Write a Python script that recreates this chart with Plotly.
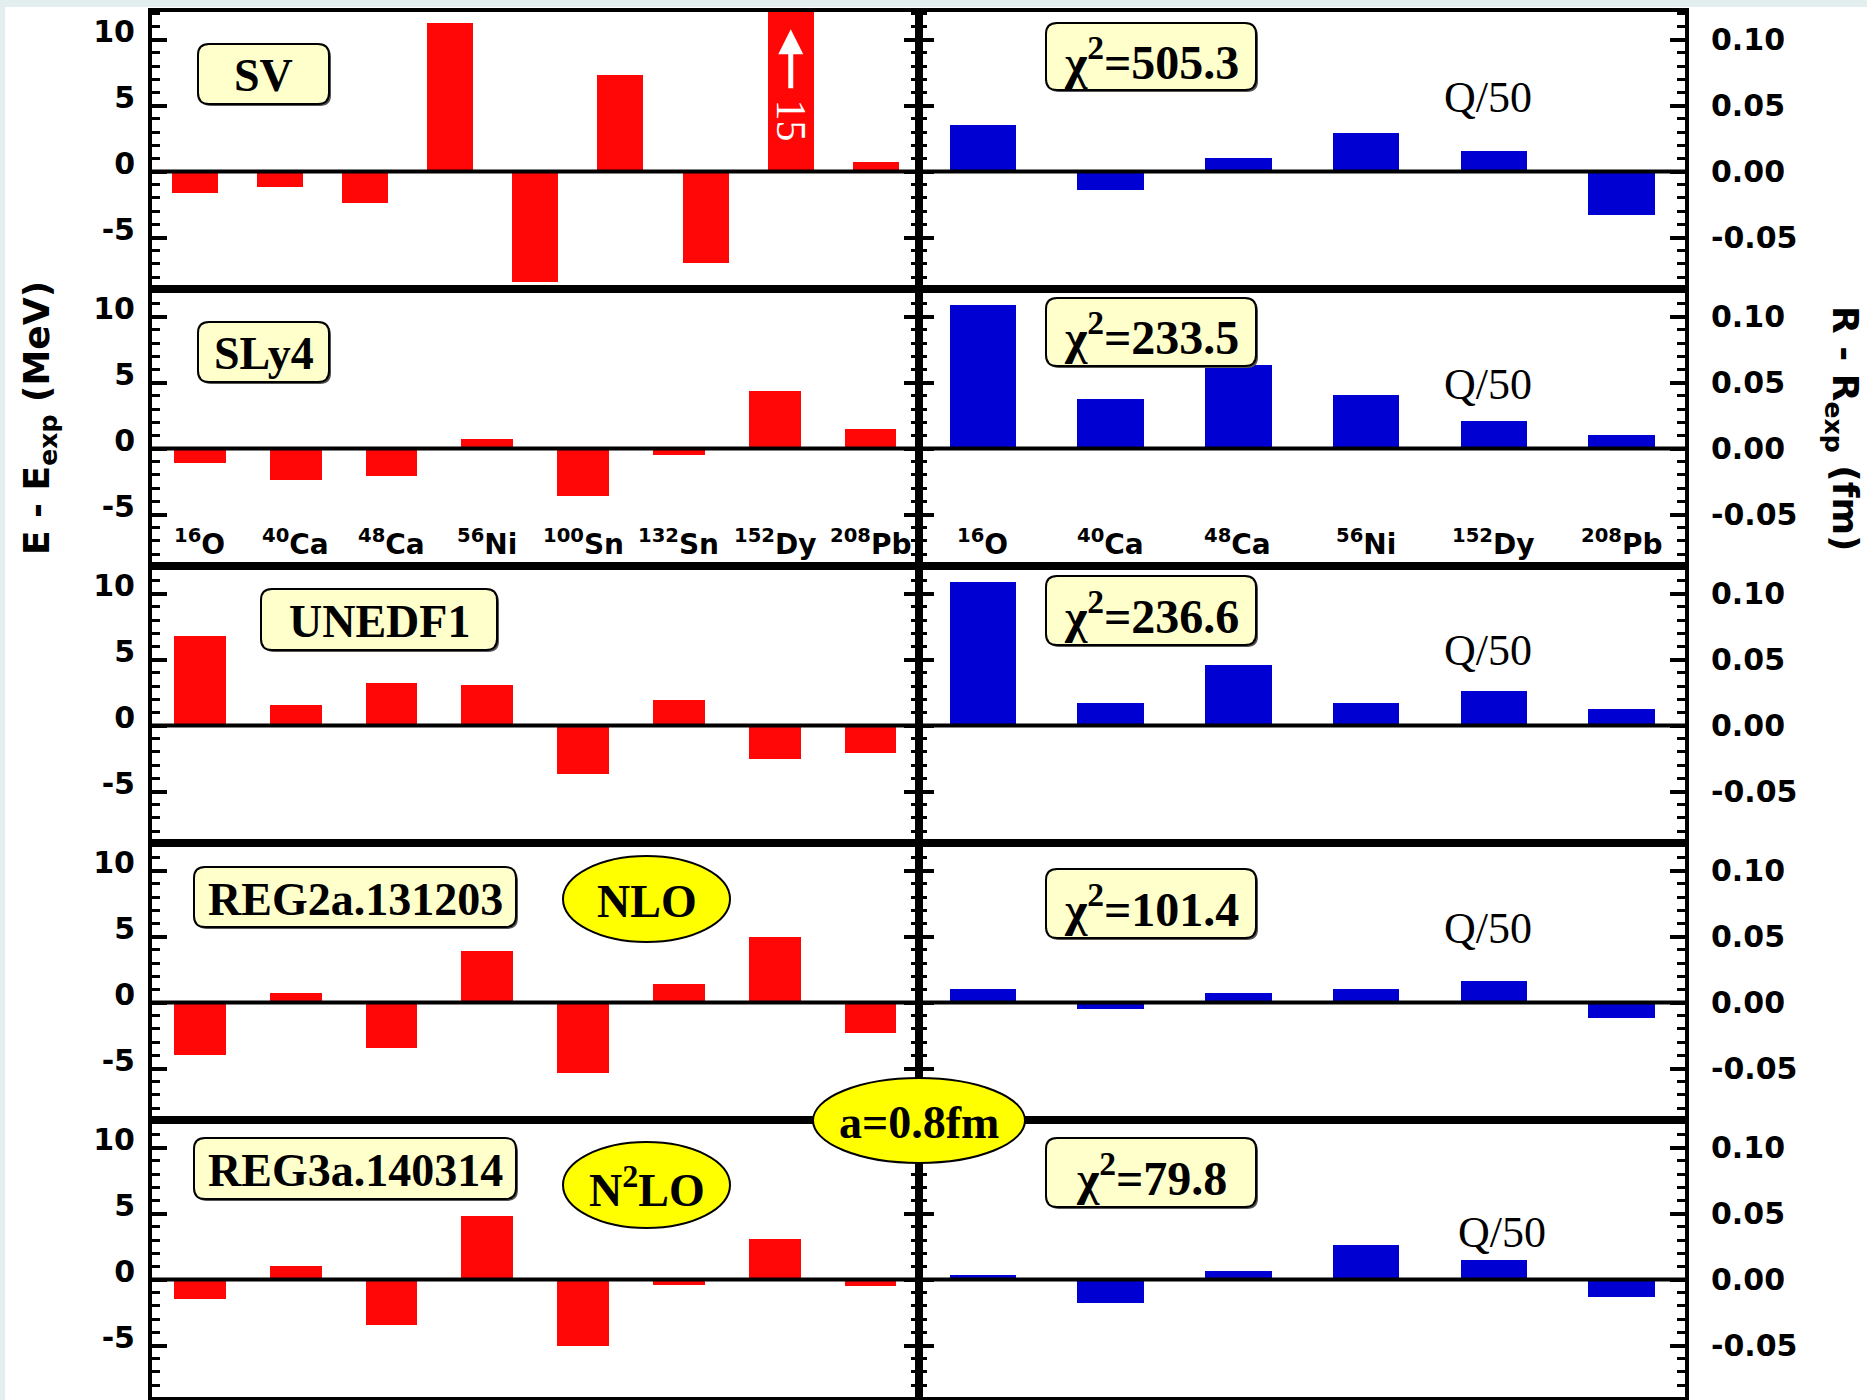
import plotly.graph_objects as go
from plotly.subplots import make_subplots

# ---------------- data ----------------
nuclei_E = ["16O", "40Ca", "48Ca", "56Ni", "100Sn", "132Sn", "152Dy", "208Pb"]
nuclei_R = ["16O", "40Ca", "48Ca", "56Ni", "152Dy", "208Pb"]
label_E = ["<sup>16</sup>O", "<sup>40</sup>Ca", "<sup>48</sup>Ca", "<sup>56</sup>Ni",
           "<sup>100</sup>Sn", "<sup>132</sup>Sn", "<sup>152</sup>Dy", "<sup>208</sup>Pb"]
label_R = ["<sup>16</sup>O", "<sup>40</sup>Ca", "<sup>48</sup>Ca", "<sup>56</sup>Ni",
           "<sup>152</sup>Dy", "<sup>208</sup>Pb"]

# SV row has nine energy bars (positions 0..8)
sv_slots = [0, 1, 2, 3, 4, 5, 6, 7, 8]
sv_E = [-1.6, -1.2, -2.4, 11.3, -8.4, 7.3, -6.9, 15.0, 0.7]
sv_R = [0.0354, -0.0136, 0.0104, 0.0293, 0.0157, -0.0326]

sly4_E = [-1.1, -2.4, -2.1, 0.7, -3.6, -0.45, 4.4, 1.5]
sly4_R = [0.1086, 0.0374, 0.0634, 0.0404, 0.0210, 0.0104]

unedf1_E = [6.8, 1.55, 3.2, 3.1, -3.7, 1.95, -2.5, -2.05]
unedf1_R = [0.109, 0.0172, 0.046, 0.0172, 0.0263, 0.0126]

reg2_E = [-4.0, 0.7, -3.45, 3.9, -5.35, 1.4, 5.0, -2.3]
reg2_R = [0.0103, -0.005, 0.0072, 0.0103, 0.0164, -0.0118]

reg3_E = [-1.5, 1.0, -3.45, 4.85, -5.05, -0.4, 3.05, -0.45]
reg3_R = [0.0035, -0.0174, 0.0066, 0.0263, 0.0149, -0.0129]

models = ["SV", "SLy4", "UNEDF1", "REG2a.131203", "REG3a.140314"]
chi2 = ["505.3", "233.5", "236.6", "101.4", "79.8"]

# ---------------- styling ----------------
RED = "#ff0707"
BLUE = "#0000d2"
SANS = "DejaVu Sans"
SERIF = "Liberation Serif"
W, H = 1867, 1400
PL, PR, PT, PB = 152, 1685, 12, 1397

fig = make_subplots(rows=5, cols=2, horizontal_spacing=0, vertical_spacing=0)

E_rows = [(sv_slots, sv_E), (nuclei_E, sly4_E), (nuclei_E, unedf1_E),
          (nuclei_E, reg2_E), (nuclei_E, reg3_E)]
R_rows = [sv_R, sly4_R, unedf1_R, reg2_R, reg3_R]

for i in range(5):
    r = i + 1
    xs, ys = E_rows[i]
    fig.add_trace(go.Bar(x=xs, y=ys, marker=dict(color=RED, line=dict(width=0)),
                         width=0.54, showlegend=False), row=r, col=1)
    fig.add_trace(go.Bar(x=nuclei_R, y=R_rows[i], marker=dict(color=BLUE, line=dict(width=0)),
                         width=0.52, showlegend=False), row=r, col=2)

frame = dict(showline=True, linewidth=4, linecolor="black", mirror=True,
             showgrid=False, zeroline=False)

for i in range(5):
    r = i + 1
    nE = 9 if i == 0 else 8
    fig.update_xaxes(range=[-0.5, nE - 0.5], showticklabels=False, ticks="",
                     row=r, col=1, **frame)
    if i == 0:
        fig.update_xaxes(type="linear", row=r, col=1)
    fig.update_xaxes(range=[-0.5, 5.5], showticklabels=False, ticks="",
                     row=r, col=2, **frame)
    fig.update_yaxes(range=[-8.9, 12.1], tickvals=[-5, 0, 5, 10],
                     ticktext=["-5", "0", "5", "10"],
                     ticks="inside", ticklen=15, tickwidth=4, tickcolor="black",
                     minor=dict(ticks="inside", ticklen=8, tickwidth=3, dtick=1,
                                tick0=0, tickcolor="black", showgrid=False),
                     tickfont=dict(family=SANS, size=30, color="black", weight="bold"),
                     ticklabelstandoff=7, ticklabelshift=-8,
                     row=r, col=1, **{**frame, "mirror": "allticks"})
    fig.update_yaxes(range=[-0.089, 0.121], side="right",
                     tickvals=[-0.05, 0, 0.05, 0.10],
                     ticktext=["-0.05", "0.00", "0.05", "0.10"],
                     ticks="inside", ticklen=15, tickwidth=4, tickcolor="black",
                     minor=dict(ticks="inside", ticklen=8, tickwidth=3, dtick=0.01,
                                tick0=0, tickcolor="black", showgrid=False),
                     tickfont=dict(family=SANS, size=30, color="black", weight="bold"),
                     ticklabelstandoff=16,
                     row=r, col=2, **{**frame, "mirror": "allticks"})

shapes = []
annotations = []

# zero lines above bars
for i in range(5):
    for c in (1, 2):
        k = 2 * i + c
        xa = "x" if k == 1 else f"x{k}"
        ya = "y" if k == 1 else f"y{k}"
        shapes.append(dict(type="line", xref=f"{xa} domain", yref=ya, x0=0, x1=1,
                           y0=0, y1=0, line=dict(color="black", width=4), layer="above"))


def pp(x, y):
    return (x - PL) / (PR - PL), (PB - y) / (PB - PT)


def rounded_box(x0, y0, x1, y1, rad=11):
    ax0, ay0 = pp(x0, y0)
    ax1, ay1 = pp(x1, y1)
    rx = rad / (PR - PL)
    ry = rad / (PB - PT)
    path = (f"M {ax0+rx},{ay0} L {ax1-rx},{ay0} Q {ax1},{ay0} {ax1},{ay0-ry} "
            f"L {ax1},{ay1+ry} Q {ax1},{ay1} {ax1-rx},{ay1} L {ax0+rx},{ay1} "
            f"Q {ax0},{ay1} {ax0},{ay1+ry} L {ax0},{ay0-ry} Q {ax0},{ay0} {ax0+rx},{ay0} Z")
    return path


def add_box(x0, y0, x1, y1, text, size=46):
    shapes.append(dict(type="path", xref="paper", yref="paper",
                       path=rounded_box(x0 + 2, y0 + 2, x1 + 2, y1 + 2),
                       fillcolor="#555555", line=dict(width=0), layer="above"))
    shapes.append(dict(type="path", xref="paper", yref="paper",
                       path=rounded_box(x0, y0, x1, y1),
                       fillcolor="#ffffcc", line=dict(color="black", width=2), layer="above"))
    cx, cy = pp((x0 + x1) / 2, (y0 + y1) / 2 + 2)
    annotations.append(dict(x=cx, y=cy, xref="paper", yref="paper", text=f"<b>{text}</b>",
                            showarrow=False, xanchor="center", yanchor="middle",
                            font=dict(family=SERIF, size=size, color="black")))


def add_ellipse(x0, y0, x1, y1, text, size=46):
    ax0, ay0 = pp(x0, y0)
    ax1, ay1 = pp(x1, y1)
    shapes.append(dict(type="circle", xref="paper", yref="paper", x0=ax0, x1=ax1,
                       y0=ay1, y1=ay0, fillcolor="#ffff00",
                       line=dict(color="black", width=2), layer="above"))
    cx, cy = pp((x0 + x1) / 2, (y0 + y1) / 2 + 2)
    annotations.append(dict(x=cx, y=cy, xref="paper", yref="paper", text=f"<b>{text}</b>",
                            showarrow=False, xanchor="center", yanchor="middle",
                            font=dict(family=SERIF, size=size, color="black")))


model_boxes = [(198, 44, 329, 104), (198, 322, 329, 382), (261, 589, 497, 650),
               (194, 867, 516, 927), (194, 1138, 516, 1199)]
chi_boxes = [(1046, 23, 1256, 90), (1046, 298, 1256, 366), (1046, 576, 1256, 645),
             (1046, 869, 1256, 938), (1046, 1138, 1256, 1207)]
q_pos = [(1488, 98), (1488, 384), (1488, 650), (1488, 928), (1502, 1232)]

for i in range(5):
    add_box(*model_boxes[i], models[i])
    add_box(*chi_boxes[i], f"χ<sup>2</sup>={chi2[i]}", size=48)
    qx, qy = pp(*q_pos[i])
    annotations.append(dict(x=qx, y=qy, xref="paper", yref="paper", text="Q/50",
                            showarrow=False, xanchor="center", yanchor="middle",
                            font=dict(family=SERIF, size=44, color="black")))

add_ellipse(563, 856, 730, 942, "NLO")
add_ellipse(563, 1142, 730, 1228, "N<sup>2</sup>LO")
add_ellipse(813, 1078, 1025, 1163, "a=0.8fm")

# nucleus labels in the SLy4 row
for name, lab in zip(nuclei_E, label_E):
    annotations.append(dict(x=name, y=-7.1, xref="x3", yref="y3", text=f"<b>{lab}</b>",
                            showarrow=False, xanchor="center", yanchor="middle",
                            font=dict(family=SANS, size=28, color="black")))
for name, lab in zip(nuclei_R, label_R):
    annotations.append(dict(x=name, y=-0.071, xref="x4", yref="y4", text=f"<b>{lab}</b>",
                            showarrow=False, xanchor="center", yanchor="middle",
                            font=dict(family=SANS, size=28, color="black")))

# off-scale SV bar marker
annotations.append(dict(x=7, y=10.8, xref="x", yref="y", ax=7, ay=6.2, axref="x", ayref="y",
                        text="", showarrow=True, arrowhead=2, arrowsize=1.0,
                        arrowwidth=5, arrowcolor="white"))
annotations.append(dict(x=7, y=3.9, xref="x", yref="y", text="15", textangle=90,
                        showarrow=False, xanchor="center", yanchor="middle",
                        font=dict(family=SERIF, size=42, color="white")))

# axis titles
tx, ty = pp(40, 418)
annotations.append(dict(x=tx, y=ty, xref="paper", yref="paper",
                        text="<b>E - E<sub>exp</sub> (MeV)</b>", textangle=-90,
                        showarrow=False, xanchor="center", yanchor="middle",
                        font=dict(family=SANS, size=36, color="black")))
tx, ty = pp(1843, 428)
annotations.append(dict(x=tx, y=ty, xref="paper", yref="paper",
                        text="<b>R - R<sub>exp</sub> (fm)</b>", textangle=90,
                        showarrow=False, xanchor="center", yanchor="middle",
                        font=dict(family=SANS, size=36, color="black")))

# light page edge strips
x0p, _ = pp(0, 0)
x1p, _ = pp(W, 0)
_, y0p = pp(0, 0)
_, y1p = pp(0, 7)
shapes.append(dict(type="rect", xref="paper", yref="paper", x0=x0p, x1=x1p, y0=y1p, y1=y0p,
                   fillcolor="#e3efef", line=dict(width=0), layer="below"))
_, yb = pp(0, H)
x5, _ = pp(5, 0)
shapes.append(dict(type="rect", xref="paper", yref="paper", x0=x0p, x1=x5, y0=yb, y1=y0p,
                   fillcolor="#e3efef", line=dict(width=0), layer="below"))

fig.update_layout(width=W, height=H, paper_bgcolor="white", plot_bgcolor="white",
                  margin=dict(l=PL, r=W - PR, t=PT, b=H - PB),
                  shapes=shapes, annotations=annotations, showlegend=False,
                  bargap=0)

fig.write_html("out.html", config={"displayModeBar": False},
               post_script="document.body.style.margin='0px';"
                           "document.body.style.overflow='hidden';")
